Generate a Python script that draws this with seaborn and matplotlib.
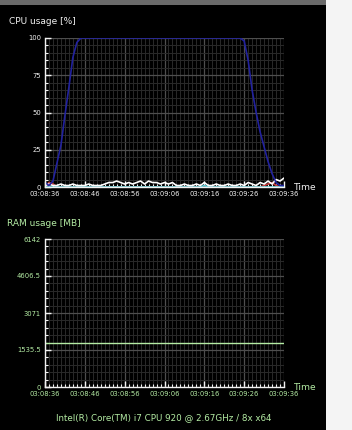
import numpy as np
import pandas as pd
import matplotlib
matplotlib.use("Agg")
import matplotlib.pyplot as plt
import seaborn as sns
from matplotlib.ticker import MultipleLocator, FixedLocator
from matplotlib.patches import Rectangle

# ---------------- data ----------------
seconds = list(range(61))
time_labels = ["03:08:36", "03:08:46", "03:08:56", "03:09:06", "03:09:16", "03:09:26", "03:09:36"]

cpu_core_blue = [3, 1, 4, 16, 28, 48, 67, 87, 97, 100,
                 100, 100, 100, 100, 100, 100, 100, 100, 100, 100,
                 100, 100, 100, 100, 100, 100, 100, 100, 100, 100,
                 100, 100, 100, 100, 100, 100, 100, 100, 100, 100,
                 100, 100, 100, 100, 100, 100, 100, 100, 100, 100,
                 98, 85, 65, 50, 37, 27, 17, 9, 3, 1, 1]
cpu_total_white = [1, 2, 1, 1, 2, 1, 1, 2, 1, 1,
                   1, 2, 1, 1, 1, 2, 3, 3, 4, 3,
                   2, 3, 2, 3, 4, 2, 4, 3, 3, 2,
                   3, 2, 3, 1, 1, 2, 1, 1, 2, 1,
                   3, 1, 1, 2, 1, 1, 2, 1, 1, 2,
                   1, 3, 2, 1, 3, 2, 4, 2, 5, 4, 6]
cpu_core_red = [0, 3, 2, 0, 0, 0, 0, 0, 0, 0,
                0, 0, 0, 0, 0, 0, 0, 0, 0, 0,
                0, 0, 0, 0, 0, 0, 0, 0, 0, 0,
                0, 0, 0, 0, 0, 0, 0, 0, 0, 0,
                0, 0, 0, 0, 0, 0, 0, 0, 0, 0,
                0, 0, 0, 0, 0, 1, 2, 3, 1, 0, 0]
cpu_core_cyan = [0, 0, 0, 0, 0, 0, 0, 0, 0, 0,
                 0, 0, 0, 0, 0, 0, 0, 0, 0, 0,
                 0, 0, 0, 0, 0, 0, 0, 0, 0, 0,
                 0, 0, 0, 0, 0, 0, 0, 0, 0, 0,
                 1, 0, 0, 0, 0, 0, 0, 0, 0, 0,
                 0, 0, 0, 0, 0, 0, 0, 0, 0, 0, 0]
ram_mb = [1815, 1815, 1815] + [1840] * 47 + [1815] * 11

cpu_ticks = [0, 25, 50, 75, 100]
ram_ticks = [0, 1535.5, 3071, 4606.5, 6142]
ram_tick_labels = ["0", "1535.5", "3071", "4606.5", "6142"]

# ---------------- style ----------------
sns.set_theme(style="dark")
plt.rcParams["font.family"] = ["DejaVu Sans"]

GREEN = "#b4eca4"
WHITE = "#f2f2f2"
BG = "#000000"

fig = plt.figure(figsize=(3.52, 4.30), dpi=100, facecolor=BG)

# background decorations (window border region)
fig.patches.append(Rectangle((0.926, 0), 0.074, 1, transform=fig.transFigure,
                             facecolor="#f4f4f4", edgecolor="none", zorder=0))
fig.patches.append(Rectangle((0, 0.988), 0.926, 0.012, transform=fig.transFigure,
                             facecolor="#6a6a6a", edgecolor="none", zorder=0))

ax1 = fig.add_axes([45 / 352, 1 - 187 / 430, 239 / 352, 149 / 430])
ax2 = fig.add_axes([45 / 352, 1 - 387 / 430, 239 / 352, 148 / 430])


def style_axes(ax, color, ymax, minor_y, yticks, ylabels):
    ax.set_facecolor(BG)
    ax.set_xlim(0, 60)
    ax.set_ylim(0, ymax)
    ax.xaxis.set_major_locator(FixedLocator([0, 10, 20, 30, 40, 50, 60]))
    ax.xaxis.set_minor_locator(MultipleLocator(1))
    ax.yaxis.set_major_locator(FixedLocator(yticks))
    ax.yaxis.set_minor_locator(MultipleLocator(minor_y))
    ax.set_xticklabels(time_labels)
    ax.set_yticklabels(ylabels)
    ax.grid(which="major", color="#4e4e4e", linewidth=0.9)
    ax.grid(which="minor", color="#2a2a2a", linewidth=0.7)
    ax.set_axisbelow(True)
    for s in ["top", "right"]:
        ax.spines[s].set_visible(False)
    for s in ["left", "bottom"]:
        ax.spines[s].set_visible(True)
        ax.spines[s].set_color(WHITE)
        ax.spines[s].set_linewidth(1.0)
    ax.tick_params(which="major", direction="in", length=4.5, width=1.0,
                   color=WHITE, labelsize=4.9, labelcolor=color, pad=3)
    ax.tick_params(which="minor", direction="in", length=2.5, width=0.8,
                   color=WHITE)
    ax.tick_params(axis="x", which="both", bottom=True)
    ax.tick_params(axis="y", which="both", left=True)
    ax.set_xlabel("")
    ax.set_ylabel("")
    ax.text(1.04, 0.0, "Time", transform=ax.transAxes, color=color,
            fontsize=6.6, va="center", ha="left")


# CPU chart
cpu_df = pd.DataFrame({
    "t": seconds * 4,
    "value": cpu_core_red + cpu_core_cyan + cpu_total_white + cpu_core_blue,
    "series": (["red"] * 61 + ["cyan"] * 61 + ["white"] * 61 + ["blue"] * 61),
})
palette = {"red": "#c83c3c", "cyan": "#5ad2dc", "white": "#ffffff", "blue": "#22229e"}
sns.lineplot(data=cpu_df, x="t", y="value", hue="series", palette=palette,
             ax=ax1, legend=False, linewidth=1.2, estimator=None)
style_axes(ax1, WHITE, 100, 5, cpu_ticks, [str(v) for v in cpu_ticks])

# RAM chart
ram_df = pd.DataFrame({"t": seconds, "mb": ram_mb})
sns.lineplot(data=ram_df, x="t", y="mb", ax=ax2, color=GREEN, linewidth=1.0,
             drawstyle="steps-post", estimator=None)
style_axes(ax2, GREEN, 6142, 307.1, ram_ticks, ram_tick_labels)

# titles and footer
fig.text(9 / 352, 1 - 22 / 430, "CPU usage [%]", color=WHITE, fontsize=6.5,
         ha="left", va="center")
fig.text(7 / 352, 1 - 224 / 430, "RAM usage [MB]", color=GREEN, fontsize=6.5,
         ha="left", va="center")
fig.text(164 / 352, 1 - 418 / 430, "Intel(R) Core(TM) i7 CPU 920 @ 2.67GHz / 8x x64",
         color=GREEN, fontsize=6.3, ha="center", va="center")

fig.savefig("out.png", dpi=100, facecolor=BG)
